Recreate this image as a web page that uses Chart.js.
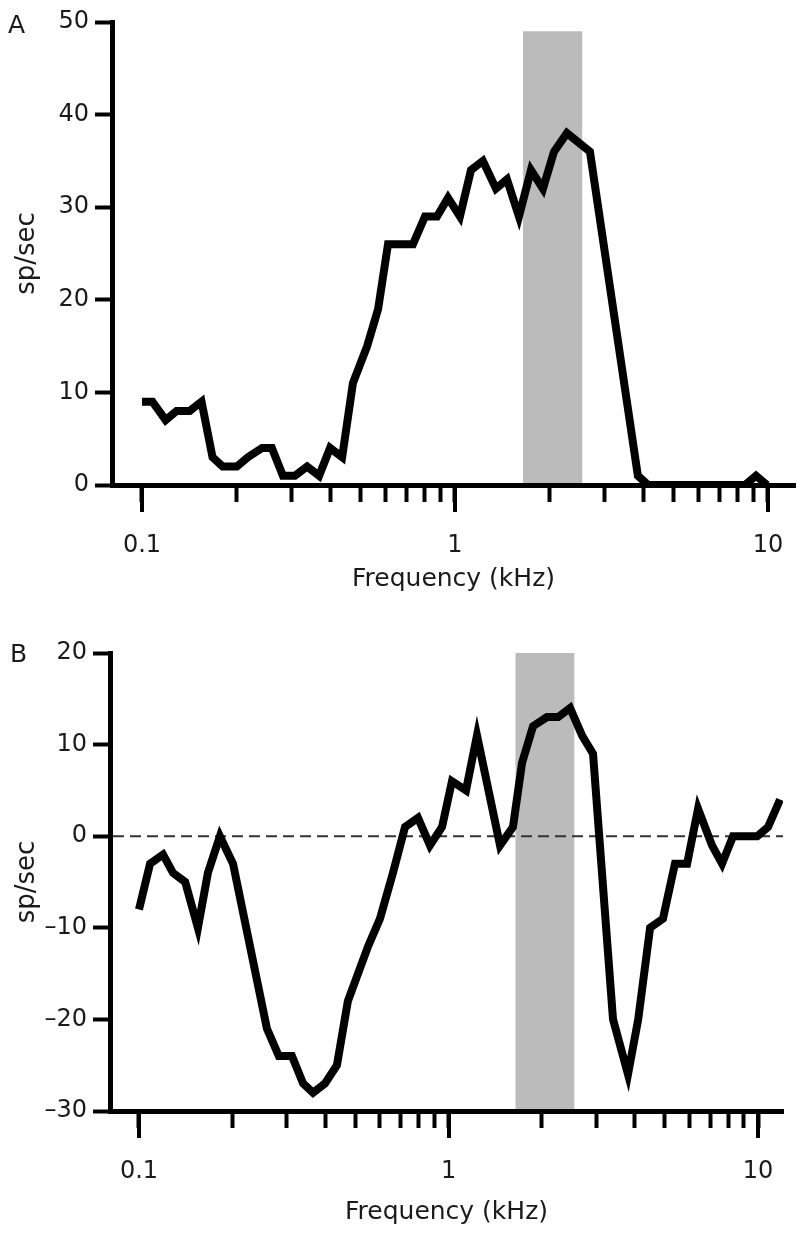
<!DOCTYPE html>
<html>
<head>
<meta charset="utf-8">
<script src="https://cdn.jsdelivr.net/npm/chart.js@4"></script>
<style>
  body { margin: 0; background: #fff; }
  canvas { display: block; }
</style>
</head>
<body>
<canvas id="panelA" width="800" height="621"></canvas>
<canvas id="panelB" width="800" height="621"></canvas>
<script>
// Panel A: firing rate vs tone frequency
const freqA = [0.1, 0.108, 0.119, 0.129, 0.142, 0.155, 0.168, 0.181, 0.201, 0.218, 0.242, 0.26,
    0.282, 0.308, 0.337, 0.368, 0.399, 0.436, 0.472, 0.524, 0.568, 0.611, 0.734, 0.802, 0.876,
    0.95, 1.037, 1.125, 1.228, 1.352, 1.466, 1.601, 1.749, 1.91, 2.072, 2.278, 2.699, 3.84, 4.14,
    8.44, 9.16, 9.93];
const rateA = [9, 9, 7, 8, 8, 9, 3, 2, 2, 3, 4, 4,
    1, 1, 2, 1, 4, 3, 11, 15, 19, 26, 26, 29, 29,
    31, 29, 34, 35, 32, 33, 29, 34, 32, 36, 38, 36, 1, 0,
    0, 1, 0];

// Panel B: rate difference
const freqB = [0.1, 0.1086, 0.1196, 0.1288, 0.141, 0.155, 0.167, 0.1826, 0.2013, 0.259, 0.283,
    0.312, 0.339, 0.365, 0.399, 0.436, 0.473, 0.51, 0.55, 0.6006, 0.6615, 0.7237, 0.797, 0.871,
    0.953, 1.026, 1.139, 1.236, 1.467, 1.615, 1.728, 1.875, 2.08, 2.26, 2.47, 2.7, 2.93, 3.4,
    3.8, 4.1, 4.48, 4.93, 5.39, 5.9, 6.4, 7.1, 7.65, 8.3, 8.95, 9.94, 10.77, 11.78];
const rateB = [-8, -3, -2, -4, -5, -10, -4, 0, -3, -21, -24,
    -24, -27, -28, -27, -25, -18, -15, -12, -9, -4, 1, 2, -1,
    1, 6, 5, 11, -1, 1, 8, 12, 13, 13, 14, 11, 9, -20,
    -26, -20, -10, -9, -3, -3, 3, -1, -3, 0, 0, 0, 1, 4];

// shaded frequency band: [from kHz, to kHz, top value]
const bandA = [1.65, 2.55, 49];
const bandB = [1.646, 2.55, 20];

const xTicks = [0.1, 0.2, 0.3, 0.4, 0.5, 0.6, 0.7, 0.8, 0.9,
    1, 2, 3, 4, 5, 6, 7, 8, 9, 10];
const xTickLabels = ['0.1', '', '', '', '', '', '', '', '',
    '1', '', '', '', '', '', '', '', '', '10'];
const yTicksA = [0, 10, 20, 30, 40, 50];
const yLabelsA = ['0', '10', '20', '30', '40', '50'];
const yTicksB = [-30, -20, -10, 0, 10, 20];
const yLabelsB = ['\u201330', '\u201320', '\u201310', '0', '10', '20'];

Chart.defaults.font.family = '"DejaVu Sans", sans-serif';
Chart.defaults.font.size = 24;
Chart.defaults.color = '#1a1a1a';

const decor = {
    id: 'decor',
    beforeDraw: function (chart, args, o) {
        const { ctx, chartArea, scales: { x, y } } = chart;
        ctx.save();
        ctx.fillStyle = '#bbbbbb';
        const x0 = x.getPixelForValue(o.band[0]);
        const x1 = x.getPixelForValue(o.band[1]);
        const top = y.getPixelForValue(o.band[2]);
        ctx.fillRect(x0, top, x1 - x0, chartArea.bottom - top);
        if (o.zeroLine) {
            const y0 = y.getPixelForValue(0);
            ctx.strokeStyle = '#333';
            ctx.lineWidth = 2;
            ctx.setLineDash([11, 6]);
            ctx.beginPath();
            ctx.moveTo(chartArea.left + 3, y0);
            ctx.lineTo(chartArea.right, y0);
            ctx.stroke();
        }
        ctx.restore();
    },
    afterDraw: function (chart, args, o) {
        const { ctx, chartArea, scales: { x } } = chart;
        ctx.save();
        // decade ticks are longer than the minor ones
        ctx.strokeStyle = '#000';
        ctx.lineWidth = 4;
        x.ticks.forEach(t => {
            const lg = Math.log10(t.value);
            if (Math.abs(lg - Math.round(lg)) > 1e-9) return;
            const px = Math.round(x.getPixelForValue(t.value));
            ctx.beginPath();
            ctx.moveTo(px, chartArea.bottom);
            ctx.lineTo(px, chartArea.bottom + o.majorLen);
            ctx.stroke();
        });
        ctx.fillStyle = '#1a1a1a';
        ctx.font = '25px "DejaVu Sans"';
        ctx.textBaseline = 'alphabetic';
        ctx.fillText(o.letter, o.letterX, o.letterY);
        ctx.restore();
    }
};

function makePanel(id, p) {
    const ctx = document.getElementById(id).getContext('2d');
    return new Chart(ctx, {
        type: 'line',
        data: {
            datasets: [{
                data: p.freq.map((f, i) => ({ x: f, y: p.rate[i] })),
                borderColor: '#000',
                borderWidth: 8,
                borderJoinStyle: 'miter',
                pointRadius: 0,
                tension: 0,
                fill: false
            }]
        },
        options: {
            responsive: false,
            animation: false,
            layout: { padding: p.padding },
            plugins: {
                legend: { display: false },
                tooltip: { enabled: false },
                decor: { band: p.band, zeroLine: p.zeroLine, majorLen: 27, letter: p.letter, letterX: p.letterX, letterY: p.letterY }
            },
            scales: {
                x: {
                    type: 'logarithmic',
                    min: p.xMin,
                    max: p.xMax,
                    afterBuildTicks: s => { s.ticks = xTicks.map(v => ({ value: v })); },
                    afterFit: s => { s.height = p.xHeight; s.paddingLeft = 0; s.paddingRight = 0; },
                    grid: { drawOnChartArea: false, drawTicks: true, tickLength: 17, tickWidth: 4, tickColor: '#000' },
                    border: { display: true, color: '#000', width: 5 },
                    ticks: { callback: (v, i) => xTickLabels[i], autoSkip: false, maxRotation: 0, padding: 29 },
                    title: { display: true, text: 'Frequency (kHz)', font: { size: 25 }, padding: { top: 0, bottom: p.titlePad } }
                },
                y: {
                    min: p.yMin,
                    max: p.yMax,
                    afterBuildTicks: s => { s.ticks = p.yTicks.map(v => ({ value: v })); },
                    afterFit: s => { s.width = p.yWidth; },
                    grid: { drawOnChartArea: false, drawTicks: true, tickLength: 17, tickWidth: 4, tickColor: '#000' },
                    border: { display: true, color: '#000', width: 5 },
                    ticks: { callback: (v, i) => p.yLabels[i], padding: 6 },
                    title: { display: true, text: 'sp/sec', font: { size: 26 }, padding: { top: 12, bottom: 0 } }
                }
            }
        },
        plugins: [decor]
    });
}

document.addEventListener('DOMContentLoaded', function () {
    makePanel('panelA', {
        freq: freqA, rate: rateA, band: bandA, zeroLine: false,
        xMin: 0.0802, xMax: 12.2, yMin: 0, yMax: 50, yTicks: yTicksA, yLabels: yLabelsA,
        padding: { left: 0, right: 5, top: 22, bottom: 0 },
        xHeight: 136, yWidth: 112, titlePad: 27,
        letter: 'A', letterX: 8, letterY: 33
    });
    makePanel('panelB', {
        freq: freqB, rate: rateB, band: bandB, zeroLine: true,
        xMin: 0.0806, xMax: 12.04, yMin: -30, yMax: 20, yTicks: yTicksB, yLabels: yLabelsB,
        padding: { left: 0, right: 17, top: 32, bottom: 0 },
        xHeight: 131, yWidth: 110, titlePad: 15,
        letter: 'B', letterX: 10, letterY: 41
    });
});
</script>
</body>
</html>
